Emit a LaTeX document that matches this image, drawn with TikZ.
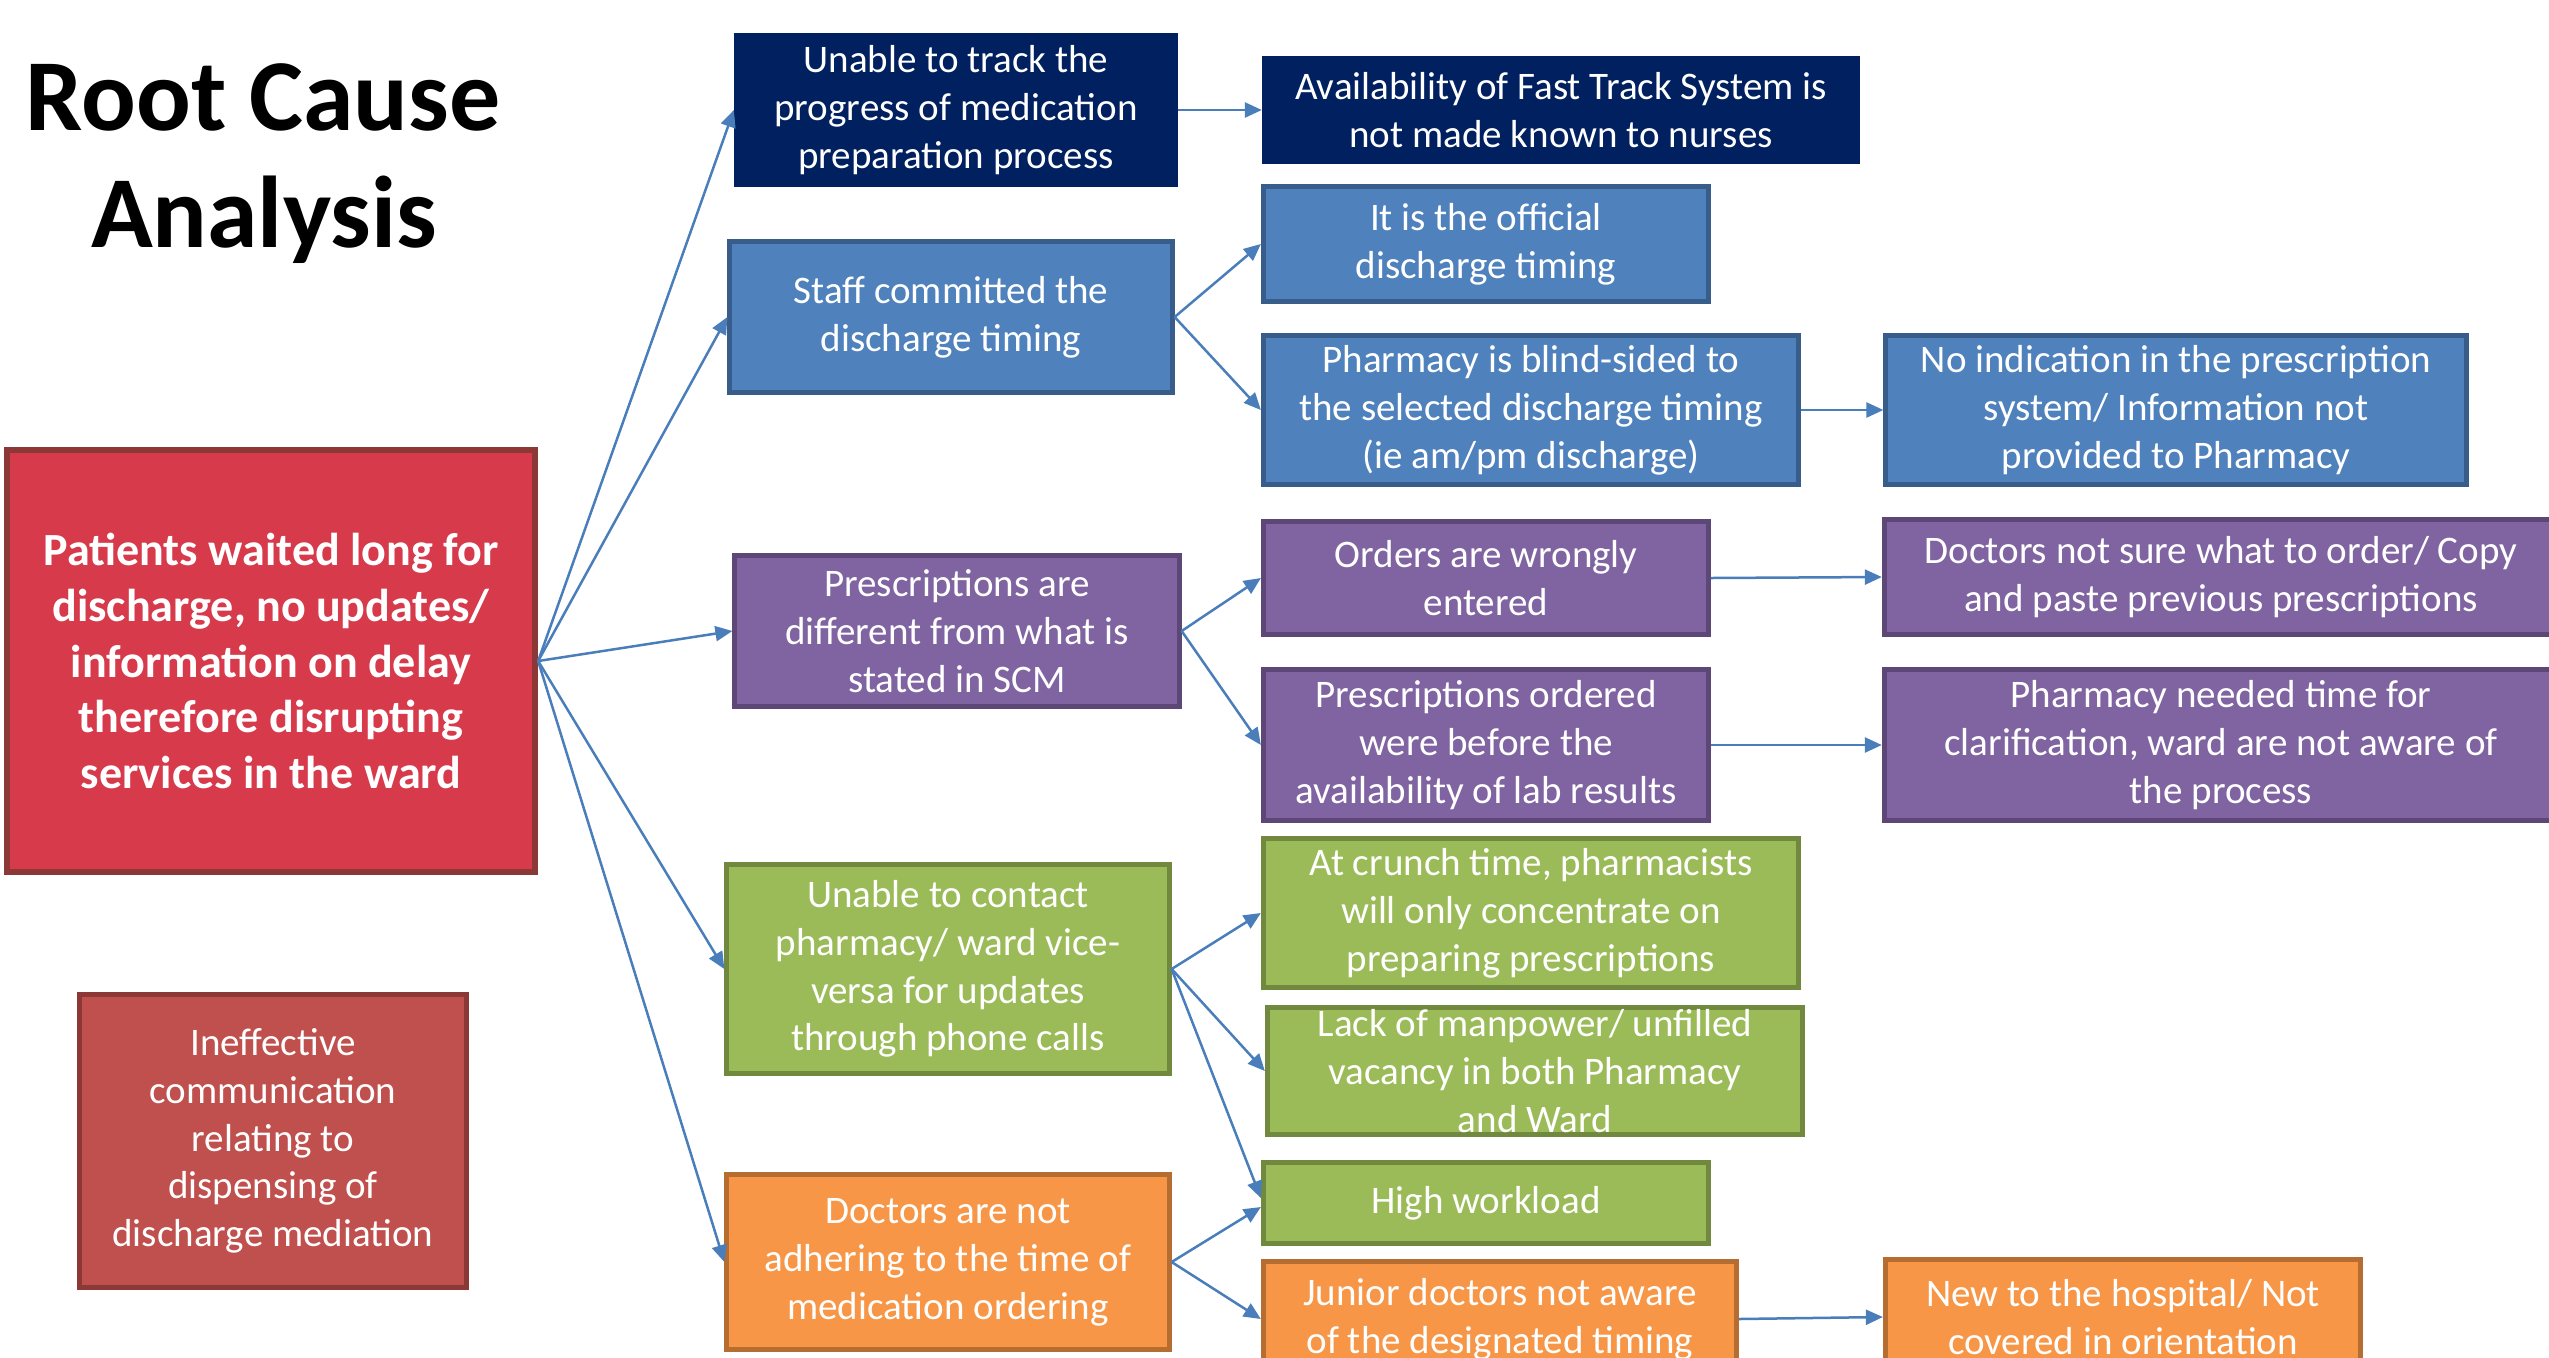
\documentclass[tikz,border=0pt]{standalone}
\usepackage{fontspec}
\setmainfont{Carlito}
\usepackage{tikz}
\usetikzlibrary{positioning}
\usetikzlibrary{arrows.meta}

\definecolor{rootred}{HTML}{D63A4B}
\definecolor{rootline}{HTML}{8C3836}
\definecolor{commred}{HTML}{C0504D}
\definecolor{navy}{HTML}{002060}
\definecolor{bluefill}{HTML}{4F81BD}
\definecolor{blueline}{HTML}{385D8A}
\definecolor{purplefill}{HTML}{8064A2}
\definecolor{purpleline}{HTML}{5C4776}
\definecolor{greenfill}{HTML}{9BBB59}
\definecolor{greenline}{HTML}{71893F}
\definecolor{orangefill}{HTML}{F79646}
\definecolor{orangeline}{HTML}{B66D31}
\definecolor{linkblue}{HTML}{4A7EBB}

\begin{document}
\begin{tikzpicture}[x=0.01cm,y=-0.01cm,>={Triangle[length=0.17cm,width=0.15cm]},
	cause/.style={rectangle,draw,line width=0.05cm,align=center,text=white,
		inner sep=0pt,font=\fontsize{11.1pt}{13.6pt}\selectfont},
	root node/.style={cause,fill=rootred,draw=rootline,line width=0.06cm,
		font=\fontsize{13.1pt}{15.9pt}\selectfont\bfseries},
	comm node/.style={cause,fill=commred,draw=rootline},
	navy node/.style={cause,fill=navy,draw=navy},
	blue node/.style={cause,fill=bluefill,draw=blueline},
	purple node/.style={cause,fill=purplefill,draw=purpleline},
	green node/.style={cause,fill=greenfill,draw=greenline},
	orange node/.style={cause,fill=orangefill,draw=orangeline},
	title/.style={anchor=base,inner sep=0pt,font=\fontsize{29pt}{34pt}\selectfont\bfseries},
	link/.style={->,color=linkblue,line width=0.025cm}]

	\useasboundingbox (0,0) rectangle (2549,1357);
	\clip (0,0) rectangle (2549,1357);

	% title
	\node[title] (title1) at (263,130) {Root Cause};
	\node[title] (title2) at (264,247) {Analysis};

	% problem
	\node[root node,minimum width=5.28cm,minimum height=4.21cm] (problem) at (271,661)
		{Patients waited long for\\discharge, no updates/\\information on delay\\therefore disrupting\\services in the ward};
	\node[comm node,minimum width=3.87cm,minimum height=2.93cm] (ineffective) at (273,1141)
		{Ineffective\\communication\\relating to\\dispensing of\\discharge mediation};

	% tracking
	\node[navy node,minimum width=4.39cm,minimum height=1.48cm] (track) at (956,110)
		{Unable to track the\\progress of medication\\preparation process};
	\node[navy node,minimum width=5.93cm,minimum height=1.02cm] (fasttrack) at (1561,110)
		{Availability of Fast Track System is\\not made known to nurses};

	% discharge timing
	\node[blue node,minimum width=4.42cm,minimum height=1.50cm] (committed) at (951,317)
		{Staff committed the\\discharge timing};
	\node[blue node,minimum width=4.45cm,minimum height=1.14cm] (official) at (1486,244)
		{It is the official\\discharge timing};
	\node[blue node,minimum width=5.35cm,minimum height=1.48cm] (blindsided) at (1531,410)
		{Pharmacy is blind-sided to\\the selected discharge timing\\(ie am/pm discharge)};
	\node[blue node,minimum width=5.80cm,minimum height=1.48cm] (noindication) at (2176,410)
		{No indication in the prescription\\system/ Information not\\provided to Pharmacy};

	% prescriptions
	\node[purple node,minimum width=4.44cm,minimum height=1.50cm] (differ) at (957,631)
		{Prescriptions are\\different from what is\\stated in SCM};
	\node[purple node,minimum width=4.45cm,minimum height=1.12cm] (wrongorder) at (1486,578)
		{Orders are wrongly\\entered};
	\node[purple node,minimum width=4.45cm,minimum height=1.50cm] (beforelab) at (1486,745)
		{Prescriptions ordered\\were before the\\availability of lab results};
	\node[purple node,minimum width=6.73cm,minimum height=1.14cm] (notsure) at (2221,577)
		{Doctors not sure what to order/ Copy\\and paste previous prescriptions};
	\node[purple node,minimum width=6.73cm,minimum height=1.50cm] (clarify) at (2221,745)
		{Pharmacy needed time for\\clarification, ward are not aware of\\the process};

	% phone calls
	\node[green node,minimum width=4.42cm,minimum height=2.08cm] (contact) at (948,969)
		{Unable to contact\\pharmacy/ ward vice-\\versa for updates\\through phone calls};
	\node[green node,minimum width=5.35cm,minimum height=1.48cm] (crunch) at (1531,913)
		{At crunch time, pharmacists\\will only concentrate on\\preparing prescriptions};
	\node[green node,minimum width=5.35cm,minimum height=1.27cm,inner ysep=-0.04cm] (manpower) at (1535,1071)
		{Lack of manpower/ unfilled\\vacancy in both Pharmacy\\and Ward};
	\node[green node,minimum width=4.45cm,minimum height=0.81cm] (workload) at (1486,1203)
		{High workload};

	% ordering time
	\node[orange node,minimum width=4.42cm,minimum height=1.75cm] (adhering) at (948,1262)
		{Doctors are not\\adhering to the time of\\medication ordering};
	\node[orange node,minimum width=4.73cm,minimum height=1.15cm] (junior) at (1500,1319)
		{Junior doctors not aware\\of the designated timing};
	\node[orange node,minimum width=4.75cm,minimum height=1.14cm] (newstaff) at (2123,1317)
		{New to the hospital/ Not\\covered in orientation};

	\path[link]
	(problem.east) edge (track.west)
	(problem.east) edge (committed.west)
	(problem.east) edge (differ.west)
	(problem.east) edge (contact.west)
	(problem.east) edge (adhering.west)
	(track) edge (fasttrack)
	(committed.east) edge (official.west)
	(committed.east) edge (blindsided.west)
	(blindsided) edge (noindication)
	(differ.east) edge (wrongorder.west)
	(differ.east) edge (beforelab.west)
	(wrongorder.east) edge (notsure.west)
	(beforelab.east) edge (clarify.west)
	(contact.east) edge (crunch.west)
	(contact.east) edge (manpower.west)
	(contact.east) edge ([yshift=0.05cm]workload.west)
	(adhering.east) edge ([yshift=-0.04cm]workload.west)
	(adhering.east) edge (junior.west)
	(junior.east) edge (newstaff.west);
\end{tikzpicture}
\end{document}
